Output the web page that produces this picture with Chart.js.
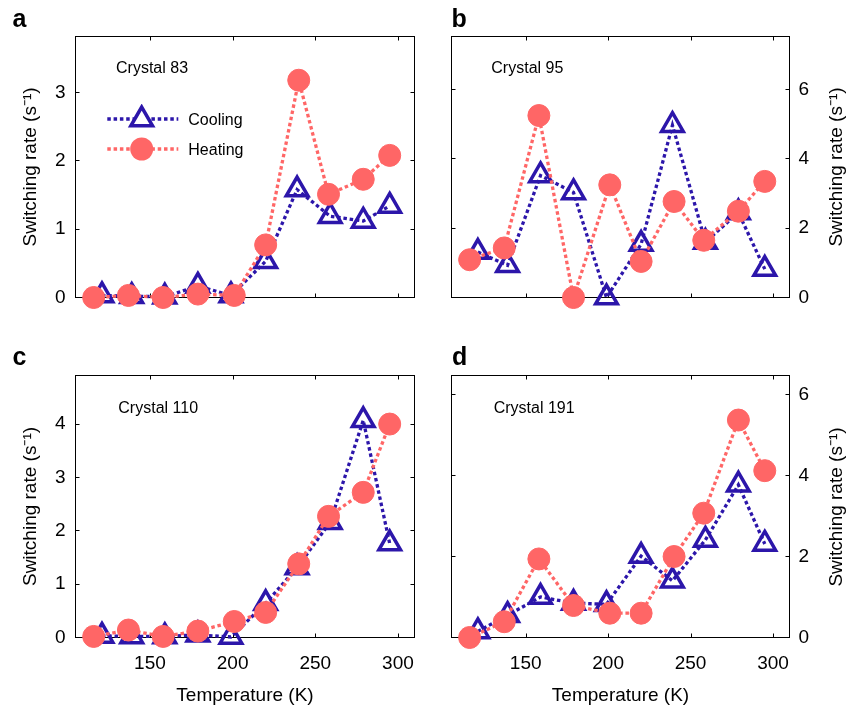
<!DOCTYPE html>
<html><head><meta charset="utf-8">
<script src="https://cdn.jsdelivr.net/npm/chart.js@4.4.1/dist/chart.umd.min.js"></script>
<style>
body{margin:0;background:#fff;}
#wrap{position:relative;width:846px;height:708px;overflow:hidden;font-family:'Liberation Sans',Arial,sans-serif;color:#000;background:#fff;}
canvas.ch{position:absolute;}
.t{position:absolute;white-space:nowrap;line-height:1;}
</style></head><body>
<div id="wrap"></div>
<script>
// ---------- data ----------
const seriesLabels = ['Cooling', 'Heating'];
const panelLetters = ['a', 'b', 'c', 'd'];
const crystalNames = ['Crystal 83', 'Crystal 95', 'Crystal 110', 'Crystal 191'];
const yTitle = 'Switching rate (s\u207B\u00B9)';
const xTitle = 'Temperature (K)';
const xTicks = [150, 200, 250, 300];

const tempsCooling = [121, 139, 159, 179, 199, 220, 239, 259, 279, 295];
const tempsHeating = [116, 137, 158, 179, 201, 220, 240, 258, 279, 295];

const coolA = [0.03, 0.02, 0.01, 0.17, 0.03, 0.53, 1.58, 1.19, 1.12, 1.34];
const heatA = [0.00, 0.03, 0.00, 0.05, 0.03, 0.77, 3.18, 1.51, 1.73, 2.08];
const yTicksA = [0, 1, 2, 3];

const coolB = [1.31, 0.93, 3.52, 3.03, 0.00, 1.54, 4.97, 1.60, 2.45, 0.82];
const heatB = [1.09, 1.43, 5.25, 0.00, 3.25, 1.04, 2.77, 1.65, 2.49, 3.35];
const yTicksB = [0, 2, 4, 6];

const coolC = [0.03, 0.02, 0.02, 0.05, 0.01, 0.64, 1.31, 2.16, 4.07, 1.76];
const heatC = [0.02, 0.14, 0.02, 0.12, 0.30, 0.47, 1.38, 2.27, 2.72, 4.00];
const yTicksC = [0, 1, 2, 3, 4];

const coolD = [0.15, 0.55, 1.00, 0.85, 0.82, 2.01, 1.40, 2.41, 3.77, 2.31];
const heatD = [0.00, 0.39, 1.94, 0.79, 0.60, 0.60, 2.00, 3.07, 5.37, 4.12];
const yTicksD = [0, 2, 4, 6];

const yMaxes = [3.82, 7.53, 4.91, 6.47];
const xRange = [105, 310];

// ---------- styles ----------
const BLUE = 'rgb(44,22,170)';
const PINK = 'rgb(255,102,102)';
const FONT = "'Liberation Sans', Arial, sans-serif";
Chart.defaults.font.family = FONT;
Chart.defaults.color = '#000';

const wrap = document.getElementById('wrap');

const boxPlugin = {
  id: 'boxTicks',
  beforeDatasetsDraw(chart) {
    const {ctx, chartArea: a, scales} = chart;
    ctx.save();
    ctx.strokeStyle = '#000';
    ctx.lineWidth = 1;
    ctx.strokeRect(a.left, a.top, a.right - a.left, a.bottom - a.top);
    const L = 4;
    ctx.beginPath();
    scales.x.ticks.forEach(t => {
      const p = Math.round(scales.x.getPixelForValue(t.value)) + 0.5;
      ctx.moveTo(p, a.bottom); ctx.lineTo(p, a.bottom - L);
      ctx.moveTo(p, a.top); ctx.lineTo(p, a.top + L);
    });
    scales.y.ticks.forEach(t => {
      const p = Math.round(scales.y.getPixelForValue(t.value) - 0.5) + 0.5;
      ctx.moveTo(a.left, p); ctx.lineTo(a.left + L, p);
      ctx.moveTo(a.right, p); ctx.lineTo(a.right - L, p);
    });
    ctx.stroke();
    ctx.restore();
  }
};

function pts(xs, ys) { return xs.map((x, i) => ({x: x, y: ys[i]})); }

function addText(txt, left, top, size, extra) {
  const d = document.createElement('div');
  d.className = 't';
  d.textContent = txt;
  d.style.left = left + 'px';
  d.style.top = top + 'px';
  d.style.fontSize = size + 'px';
  if (extra) Object.assign(d.style, extra);
  wrap.appendChild(d);
  return d;
}

const TRI_R = 12.5, TRI_W = 3.5, CIRC_R = 11, LINE_W = 3.3, DASH = [3.5, 2.8];

function makePanel(p) {
  const c = document.createElement('canvas');
  c.className = 'ch';
  c.width = p.w; c.height = p.h;
  c.style.left = p.left + 'px'; c.style.top = p.top + 'px';
  c.style.width = p.w + 'px'; c.style.height = p.h + 'px';
  wrap.appendChild(c);
  new Chart(c, {
    type: 'line',
    data: {
      datasets: [
        {
          label: seriesLabels[0], order: 1,
          data: pts(tempsCooling, p.cool),
          borderColor: BLUE, borderWidth: LINE_W, borderDash: DASH, borderCapStyle: 'butt',
          fill: false, tension: 0, clip: false,
          pointStyle: 'triangle', pointRadius: TRI_R, pointHoverRadius: TRI_R,
          pointBorderWidth: TRI_W, pointBorderColor: BLUE, pointBackgroundColor: 'rgba(0,0,0,0)'
        },
        {
          label: seriesLabels[1], order: 0,
          data: pts(tempsHeating, p.heat),
          borderColor: PINK, borderWidth: LINE_W, borderDash: DASH, borderCapStyle: 'butt',
          fill: false, tension: 0, clip: false,
          pointStyle: 'circle', pointRadius: CIRC_R, pointHoverRadius: CIRC_R,
          pointBorderWidth: 1, pointBorderColor: PINK, pointBackgroundColor: PINK
        }
      ]
    },
    options: {
      responsive: false, animation: false, events: [],
      layout: {padding: p.pad, autoPadding: false},
      plugins: {legend: {display: false}, tooltip: {enabled: false}},
      scales: {
        x: {
          type: 'linear', min: xRange[0], max: xRange[1],
          grid: {display: false, drawTicks: false}, border: {display: false},
          ticks: {display: p.showX, padding: 14.5, font: {size: 19}, color: '#000'},
          title: {display: p.showX, text: xTitle, font: {size: 19}, color: '#000', padding: {top: 0, bottom: 0.5}},
          afterBuildTicks: s => { s.ticks = xTicks.map(v => ({value: v})); },
          afterFit: s => { s.height = p.xH; s.paddingLeft = 0; s.paddingRight = 0; }
        },
        y: {
          type: 'linear', position: p.side, min: 0, max: p.yMax,
          grid: {display: false, drawTicks: false}, border: {display: false},
          ticks: {padding: p.side === 'left' ? 10 : 9, font: {size: 19}, color: '#000'},
          title: {display: p.side === 'left', text: yTitle, font: {size: 19}, color: '#000', padding: {top: 19.5, bottom: 0}},
          afterBuildTicks: s => { s.ticks = p.yTicks.map(v => ({value: v})); },
          afterFit: s => { s.width = p.yW; s.paddingTop = 0; s.paddingBottom = 0; }
        }
      }
    },
    plugins: [boxPlugin]
  });
}

const panels = [
  {left: 0, top: 0, w: 423, h: 340, side: 'left', showX: false, pad: {top: 36.5, right: 8.5, left: 0, bottom: 0}, yW: 75.5, xH: 42.5, cool: coolA, heat: heatA, yTicks: yTicksA, yMax: yMaxes[0]},
  {left: 423, top: 0, w: 423, h: 340, side: 'right', showX: false, pad: {top: 36.5, right: 0, left: 28.5, bottom: 0}, yW: 56.5, xH: 42.5, cool: coolB, heat: heatB, yTicks: yTicksB, yMax: yMaxes[1]},
  {left: 0, top: 340, w: 423, h: 368, side: 'left', showX: true, pad: {top: 35.5, right: 8.5, left: 0, bottom: 0}, yW: 75.5, xH: 70.5, cool: coolC, heat: heatC, yTicks: yTicksC, yMax: yMaxes[2]},
  {left: 423, top: 340, w: 423, h: 368, side: 'right', showX: true, pad: {top: 35.5, right: 0, left: 28.5, bottom: 0}, yW: 56.5, xH: 70.5, cool: coolD, heat: heatD, yTicks: yTicksD, yMax: yMaxes[3]}
];
panels.forEach(makePanel);

// panel letters
const letterPos = [[12.5, 5.5], [451.5, 5.5], [12.5, 343.8], [452, 343.8]];
panelLetters.forEach((l, i) => addText(l, letterPos[i][0], letterPos[i][1], 25, {fontWeight: 'bold'}));

// crystal labels
const crystalPos = [[116, 59.8], [491.3, 59.8], [118.3, 399.8], [493.7, 399.8]];
crystalNames.forEach((n, i) => addText(n, crystalPos[i][0], crystalPos[i][1], 16));

// right-side y titles (rotated to read bottom-to-top)
[[834.5, 167], [834.5, 507]].forEach(pos => {
  addText(yTitle, pos[0], pos[1], 19, {transform: 'translate(-50%,-50%) rotate(-90deg)'});
});

// legend (panel a)
function legendIcon(left, top, color, style) {
  const c = document.createElement('canvas');
  c.width = 80; c.height = 30;
  c.style.position = 'absolute'; c.style.left = left + 'px'; c.style.top = top + 'px';
  wrap.appendChild(c);
  const ctx = c.getContext('2d');
  ctx.strokeStyle = color; ctx.lineWidth = LINE_W; ctx.setLineDash(DASH); ctx.lineCap = 'butt';
  ctx.beginPath(); ctx.moveTo(3.3, 15); ctx.lineTo(74.3, 15); ctx.stroke();
  ctx.setLineDash([]);
  const cx = 37.7, cy = 15.5;
  if (style === 'triangle') {
    const r = TRI_R;
    ctx.beginPath();
    ctx.moveTo(cx, cy - r);
    ctx.lineTo(cx + r * Math.sin(2 * Math.PI / 3), cy - r * Math.cos(2 * Math.PI / 3));
    ctx.lineTo(cx - r * Math.sin(2 * Math.PI / 3), cy - r * Math.cos(2 * Math.PI / 3));
    ctx.closePath();
    ctx.fillStyle = '#fff'; ctx.fill();
    ctx.lineWidth = TRI_W; ctx.stroke();
  } else {
    ctx.beginPath(); ctx.arc(cx, 15, 11.5, 0, Math.PI * 2);
    ctx.fillStyle = color; ctx.fill();
  }
}
legendIcon(104, 104, BLUE, 'triangle');
legendIcon(104, 134, PINK, 'circle');
addText(seriesLabels[0], 188.3, 112.1, 16);
addText(seriesLabels[1], 188.3, 141.5, 16);
</script>
</body></html>
